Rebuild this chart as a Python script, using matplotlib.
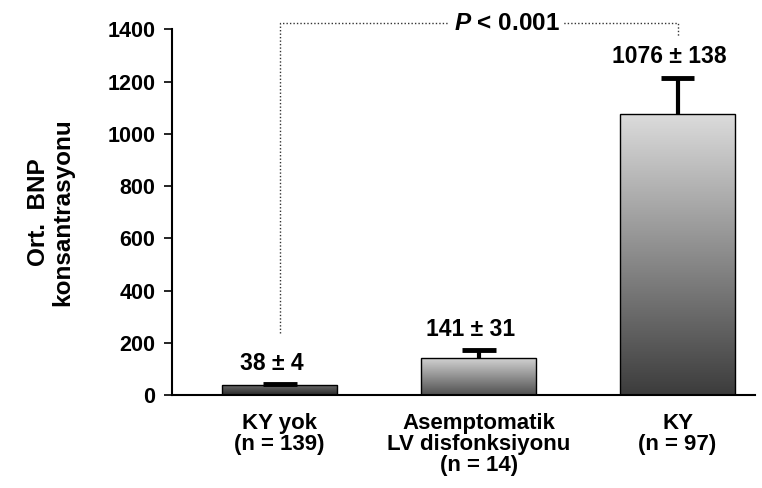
import numpy as np
import matplotlib
matplotlib.use('Agg')
import matplotlib.pyplot as plt
from matplotlib.colors import LinearSegmentedColormap

# ── Data ──────────────────────────────────────────────────────────────────────
categories = ['KY yok\n(n = 139)',
              'Asemptomatik\nLV disfonksiyonu\n(n = 14)',
              'KY\n(n = 97)']
means  = [38, 141, 1076]
errors = [4, 31, 138]
value_labels = ['38 ± 4', '141 ± 31', '1076 ± 138']
y_ticks = [0, 200, 400, 600, 800, 1000, 1200, 1400]
p_text = r'$P$ < 0.001'

# gradient (top colour, bottom colour) per bar
bar_shades = [('#6a6a6a', '#2a2a2a'),
              ('#d2d2d2', '#505050'),
              ('#dcdcdc', '#3c3c3c')]

plt.rcParams['font.family'] = ['Liberation Sans', 'DejaVu Sans']
plt.rcParams['font.weight'] = 'bold'
plt.rcParams['mathtext.fontset'] = 'custom'
plt.rcParams['mathtext.it'] = 'Liberation Sans:italic:bold'
plt.rcParams['mathtext.rm'] = 'Liberation Sans:bold'

fig = plt.figure(figsize=(7.62, 4.88), dpi=100)
ax = fig.add_axes([0.226, 0.19, 0.765, 0.75])

x = np.arange(len(means))
bar_w = 0.58
bars = ax.bar(x, means, width=bar_w, color='none', edgecolor='black',
              linewidth=1.0, zorder=3)

# halftone-like vertical gradients, clipped to each bar
for bar, (top, bottom) in zip(bars, bar_shades):
    cmap = LinearSegmentedColormap.from_list('g', [bottom, top])
    grad = np.linspace(0, 1, 256).reshape(-1, 1)
    x0 = bar.get_x()
    im = ax.imshow(grad, cmap=cmap, aspect='auto', origin='lower',
                   extent=[x0, x0 + bar.get_width(), 0, bar.get_height()],
                   zorder=2)
    im.set_clip_path(bar)

# upper-only error bars
tops = np.array(means) + np.array(errors)
ax.vlines(x, means, tops, colors='black', linewidth=3, zorder=4)
ax.hlines(tops, x - 0.085, x + 0.085, colors='black', linewidth=3.5, zorder=4)

for xi, t, lab in zip(x, tops, value_labels):
    ax.text(xi - 0.04, t + 80, lab, ha='center', va='center',
            fontsize=16.5, fontweight='bold')

# significance bracket between first and last group
y_br = 1423
ax.plot([x[0], x[0], x[-1], x[-1]],
        [tops[0] + 195, y_br, y_br, tops[-1] + 155],
        linestyle=(0, (1, 1.5)), linewidth=1.0, color='#333333',
        clip_on=False, zorder=1)
ax.text((x[0] + x[-1]) / 2 + 0.14, y_br, p_text, ha='center', va='center',
        fontsize=17.5, fontweight='bold', zorder=5,
        bbox=dict(facecolor='white', edgecolor='none', pad=3))

ax.set_xlim(-0.54, 2.39)
ax.set_ylim(0, 1400)
ax.set_yticks(y_ticks)
ax.set_yticklabels([str(t) for t in y_ticks], fontsize=15.5, fontweight='bold')
ax.set_xticks(x)
ax.set_xticklabels(categories, fontsize=16, fontweight='bold',
                   linespacing=1.0)
ax.tick_params(axis='x', length=0, pad=13)
ax.tick_params(axis='y', length=6, width=1.2, pad=6)

ax.set_ylabel('Ort.  BNP\nkonsantrasyonu', fontsize=17.5, fontweight='bold',
              labelpad=24, linespacing=1.05)

for side in ('top', 'right'):
    ax.spines[side].set_visible(False)
for side in ('left', 'bottom'):
    ax.spines[side].set_linewidth(1.5)

fig.savefig('out.png', dpi=100)
